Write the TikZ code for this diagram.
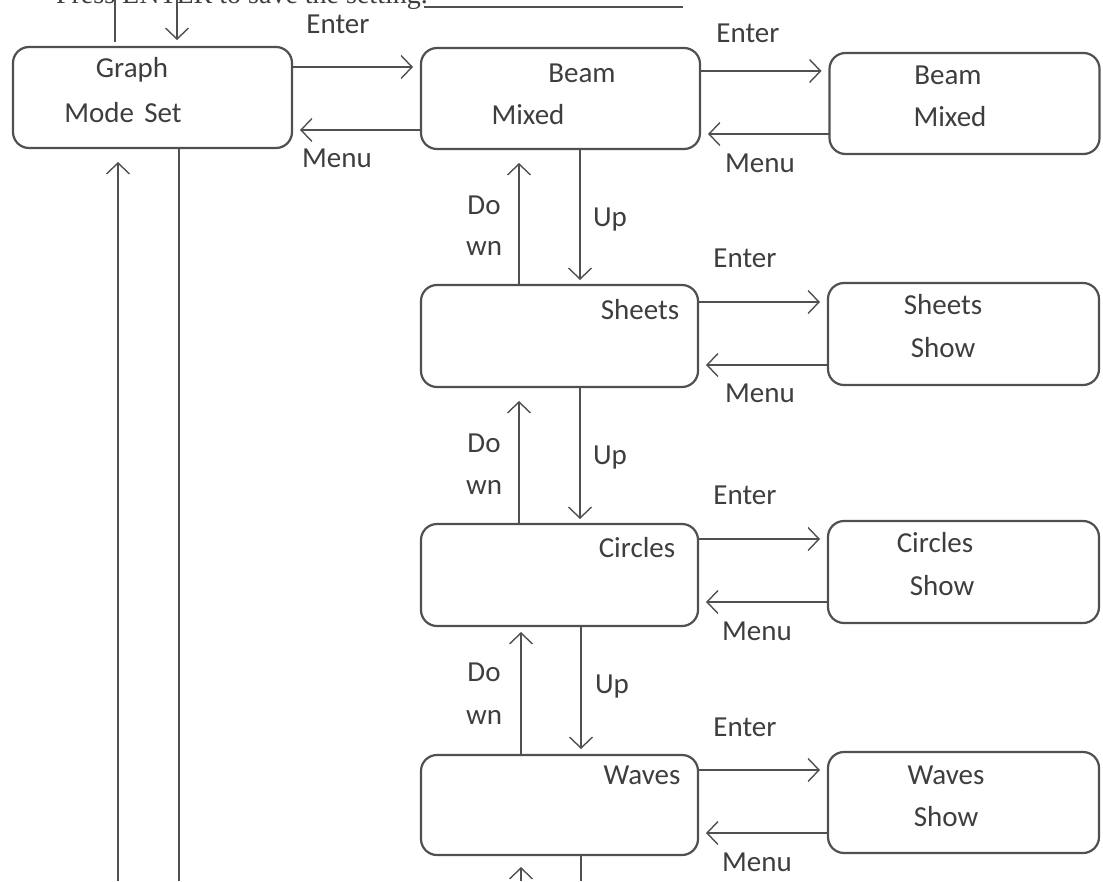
\documentclass[tikz,border=0pt]{standalone}
\usepackage{fontspec}
\setmainfont{Carlito}
\newfontfamily\serifcut{Liberation Serif}
\usetikzlibrary{arrows.meta}
\definecolor{ink}{HTML}{3E3E3E}
\definecolor{edge}{HTML}{505050}
\tikzset{
  box/.style={draw=edge, line width=2.2pt, rounded corners=16pt, inner sep=0pt, outer sep=0pt},
  txt/.style={text=ink, font=\fontsize{29}{33}\selectfont, inner sep=0pt, anchor=center},
  arr/.style={draw=edge, line width=1.4pt, -{Straight Barb[length=11pt,width=23pt,line width=1.4pt]}},
  ln/.style={draw=edge, line width=1.4pt},
}
\begin{document}
\begin{tikzpicture}[x=1pt,y=-1pt]
\useasboundingbox (0,0) rectangle (1103,881);
\clip (0,0) rectangle (1103,881);
% cut-off caption at top
\node[anchor=base east, inner sep=0pt, text=ink, font=\serifcut\fontsize{28}{32}\selectfont] (cap) at (428,3) {Press ENTER to save the setting.};
\coordinate (ulA) at (424,7);
\coordinate (ulB) at (683,7);
\draw[ln] (ulA) -- (ulB);

% boxes
\node[box, minimum width=279pt, minimum height=101pt] (graph) at (152.5,97.5) {};
\node[box, minimum width=279pt, minimum height=101pt] (beamL) at (560.5,98.5) {};
\node[box, minimum width=270pt, minimum height=101pt] (beamR) at (964.5,103.5) {};
\node[box, minimum width=277pt, minimum height=102pt] (sheetsL) at (559.5,336) {};
\node[box, minimum width=271pt, minimum height=102pt] (sheetsR) at (963.5,334) {};
\node[box, minimum width=277pt, minimum height=102pt] (circlesL) at (559.5,575) {};
\node[box, minimum width=271pt, minimum height=102pt] (circlesR) at (963.5,572) {};
\node[box, minimum width=277pt, minimum height=100pt] (wavesL) at (559.5,805) {};
\node[box, minimum width=271pt, minimum height=101pt] (wavesR) at (963.5,802.5) {};

% box texts
\node[txt] (tGraph) at (132,70) {Graph};
\node[txt] (tMode) at (123,113) {Mode\hspace{0.35em}Set};
\node[txt] (tBeamL) at (582,73) {Beam};
\node[txt] (tMixedL) at (528,115) {Mixed};
\node[txt] (tBeamR) at (948,75) {Beam};
\node[txt] (tMixedR) at (950,117) {Mixed};
\node[txt] (tSheetsL) at (640,310) {Sheets};
\node[txt] (tSheetsR) at (943,305) {Sheets};
\node[txt] (tShowS) at (943,348) {Show};
\node[txt] (tCirclesL) at (637,548) {Circles};
\node[txt] (tCirclesR) at (935,543) {Circles};
\node[txt] (tShowC) at (942,586) {Show};
\node[txt] (tWavesL) at (642,775) {Waves};
\node[txt] (tWavesR) at (946,775) {Waves};
\node[txt] (tShowW) at (946,817) {Show};

% top stubs
\coordinate (topA) at (115,0);
\coordinate (topAend) at (115,42);
\coordinate (topB) at (177,0);
\draw[ln] (topA) -- (topAend);
\draw[arr, shorten >=7pt] (topB) -- (topB |- graph.north);

% left column long lines
\coordinate (botA) at (118,881);
\coordinate (botB) at (179,881);
\draw[arr, shorten >=14pt] (botA) -- (botA |- graph.south);
\draw[ln] (botB |- graph.south) -- (botB);

% row 1: graph <-> beamL
\draw[arr, shorten >=8pt] (graph.east |- 0,67) -- (beamL.west |- 0,67);
\draw[arr, shorten >=8pt] (beamL.west |- 0,130) -- (graph.east |- 0,130);
\node[txt] (lE1) at (338,24) {Enter};
\node[txt] (lM1) at (337,158) {Menu};

% row 1: beamL <-> beamR
\draw[arr, shorten >=8pt] (beamL.east |- 0,71) -- (beamR.west |- 0,71);
\draw[arr, shorten >=8pt] (beamR.west |- 0,134) -- (beamL.east |- 0,134);
\node[txt] (lE2) at (748,33) {Enter};
\node[txt] (lM2) at (760,163) {Menu};

% beamL <-> sheetsL
\draw[arr, shorten >=14pt] (sheetsL.north -| 519,0) -- (beamL.south -| 519,0);
\draw[arr, shorten >=5pt] (beamL.south -| 580,0) -- (sheetsL.north -| 580,0);
\node[txt] (lD1) at (484,205) {Do};
\node[txt] (lW1) at (484,248) {wn};
\node[txt] (lU1) at (610,220) {Up};

% sheets row
\draw[arr, shorten >=8pt] (sheetsL.east |- 0,302) -- (sheetsR.west |- 0,302);
\draw[arr, shorten >=8pt] (sheetsR.west |- 0,365) -- (sheetsL.east |- 0,365);
\node[txt] (lE3) at (745,258) {Enter};
\node[txt] (lM3) at (760,393) {Menu};

% sheetsL <-> circlesL
\draw[arr, shorten >=14pt] (circlesL.north -| 519,0) -- (sheetsL.south -| 519,0);
\draw[arr, shorten >=5pt] (sheetsL.south -| 580,0) -- (circlesL.north -| 580,0);
\node[txt] (lD2) at (484,443) {Do};
\node[txt] (lW2) at (484,487) {wn};
\node[txt] (lU2) at (610,458) {Up};

% circles row
\draw[arr, shorten >=8pt] (circlesL.east |- 0,539) -- (circlesR.west |- 0,539);
\draw[arr, shorten >=8pt] (circlesR.west |- 0,602) -- (circlesL.east |- 0,602);
\node[txt] (lE4) at (745,495) {Enter};
\node[txt] (lM4) at (757,631) {Menu};

% circlesL <-> wavesL
\draw[arr, shorten >=6pt] (wavesL.north -| 521,0) -- (circlesL.south -| 521,0);
\draw[arr, shorten >=6pt] (circlesL.south -| 581,0) -- (wavesL.north -| 581,0);
\node[txt] (lD3) at (484,672) {Do};
\node[txt] (lW3) at (484,717) {wn};
\node[txt] (lU3) at (612,687) {Up};

% waves row
\draw[arr, shorten >=8pt] (wavesL.east |- 0,770) -- (wavesR.west |- 0,770);
\draw[arr, shorten >=8pt] (wavesR.west |- 0,833) -- (wavesL.east |- 0,833);
\node[txt] (lE5) at (745,727) {Enter};
\node[txt] (lM5) at (757,862) {Menu};

% bottom stubs under wavesL
\coordinate (botC) at (521,881);
\coordinate (botD) at (581,881);
\draw[arr, shorten >=12pt] (botC) -- (botC |- wavesL.south);
\draw[ln] (botD |- wavesL.south) -- (botD);
\end{tikzpicture}
\end{document}
